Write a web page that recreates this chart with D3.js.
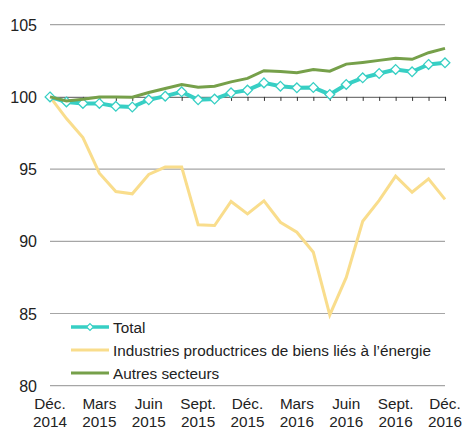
<!DOCTYPE html>
<html>
<head>
<meta charset="utf-8">
<script src="https://cdn.jsdelivr.net/npm/d3@7"></script>
<style>
  body { margin: 0; background: #fff; }
  text { font-family: "Liberation Sans", Arial, sans-serif; fill: #222; }
</style>
</head>
<body>
<script>
// Monthly index, Dec 2014 = 100
let months = d3.range(25);
let tickMonths = [0, 3, 6, 9, 12, 15, 18, 21, 24];
let tickLabels = [["Déc.", "2014"], ["Mars", "2015"], ["Juin", "2015"], ["Sept.", "2015"], ["Déc.", "2015"],
  ["Mars", "2016"], ["Juin", "2016"], ["Sept.", "2016"], ["Déc.", "2016"]];
let yTicks = [80, 85, 90, 95, 100, 105];

let total = [100, 99.65, 99.55, 99.55, 99.35, 99.3, 99.8, 100.05, 100.35, 99.8, 99.85, 100.28,
  100.47, 100.97, 100.74, 100.63, 100.65, 100.17, 100.86, 101.32, 101.62, 101.9, 101.74, 102.25, 102.36];
let energie = [100, 98.5, 97.18, 94.72, 93.45, 93.29, 94.63, 95.14, 95.14, 91.15, 91.09, 92.76,
  91.9, 92.8, 91.32, 90.63, 89.24, 84.9, 87.5, 91.39, 92.83, 94.51, 93.4, 94.33, 92.9];
let autres = [100, 99.72, 99.84, 100.0, 100.0, 99.98, 100.3, 100.58, 100.86, 100.67, 100.74, 101.04,
  101.28, 101.81, 101.76, 101.67, 101.9, 101.78, 102.27, 102.39, 102.53, 102.67, 102.6, 103.06, 103.36];

let width = 467;
let height = 432;
let margin = { top: 24.7, bottom: 46.3, left: 50, right: 22 };

let svg = d3.select("body").append("svg")
  .attr("width", width)
  .attr("height", height);

let x = d3.scaleLinear()
  .domain([0, 24])
  .range([margin.left, width - margin.right]);

let y = d3.scaleLinear()
  .domain([80, 105])
  .range([height - margin.bottom, margin.top]);

// Gridlines
svg.append("g")
  .selectAll("line")
  .data(yTicks.filter(d => d !== 100))
  .enter().append("line")
  .attr("x1", x(0))
  .attr("x2", x(24))
  .attr("y1", d => y(d))
  .attr("y2", d => y(d))
  .attr("stroke", "#a6a6a6")
  .attr("stroke-width", 1.2);

// Y labels
svg.append("g")
  .selectAll("text")
  .data(yTicks)
  .enter().append("text")
  .attr("x", 37)
  .attr("y", d => y(d) + 6)
  .attr("text-anchor", "end")
  .style("font-size", "16px")
  .text(d => d);

// Axis line at 100 with month ticks
let axis = svg.append("g")
  .attr("transform", `translate(0, ${y(100)})`)
  .call(d3.axisBottom(x).tickValues(months).tickSize(4).tickFormat(""));
axis.select(".domain").attr("stroke", "#777").attr("stroke-width", 1.2);
axis.selectAll(".tick line").attr("stroke", "#333");

// X labels
let xl = svg.append("g")
  .selectAll("text")
  .data(tickMonths)
  .enter().append("text")
  .attr("x", d => x(d))
  .attr("text-anchor", "middle")
  .style("font-size", "15.3px");
xl.append("tspan").attr("x", d => x(d)).attr("y", 409).text((d, i) => tickLabels[i][0]);
xl.append("tspan").attr("x", d => x(d)).attr("y", 427).text((d, i) => tickLabels[i][1]);

let line = d3.line()
  .x((d, i) => x(i))
  .y(d => y(d));

svg.append("path")
  .datum(energie)
  .attr("fill", "none")
  .attr("stroke", "#f9dd8c")
  .attr("stroke-width", 3)
  .attr("d", line);

svg.append("path")
  .datum(total)
  .attr("fill", "none")
  .attr("stroke", "#37cfc4")
  .attr("stroke-width", 4)
  .attr("d", line);

svg.selectAll(".mk")
  .data(total)
  .enter().append("path")
  .attr("class", "mk")
  .attr("d", d3.symbol().type(d3.symbolDiamond2).size(60))
  .attr("transform", (d, i) => `translate(${x(i)}, ${y(d)})`)
  .attr("fill", "#fff")
  .attr("stroke", "#37cfc4")
  .attr("stroke-width", 1.3);

svg.append("path")
  .datum(autres)
  .attr("fill", "none")
  .attr("stroke", "#76a04a")
  .attr("stroke-width", 3)
  .attr("d", line);

// Legend
let legendItems = [
  { name: "Total", color: "#37cfc4", w: 3.5, marker: true },
  { name: "Industries productrices de biens liés à l’énergie", color: "#f9dd8c", w: 3, marker: false },
  { name: "Autres secteurs", color: "#76a04a", w: 3, marker: false }
];

let legend = svg.selectAll(".legend")
  .data(legendItems)
  .enter().append("g")
  .attr("class", "legend")
  .attr("transform", (d, i) => `translate(71, ${327 + i * 23})`);

legend.append("line")
  .attr("x1", 0)
  .attr("x2", 38)
  .attr("stroke", d => d.color)
  .attr("stroke-width", d => d.w);

legend.filter(d => d.marker).append("path")
  .attr("d", d3.symbol().type(d3.symbolDiamond2).size(30))
  .attr("transform", "translate(19, 0)")
  .attr("fill", "#fff")
  .attr("stroke", d => d.color)
  .attr("stroke-width", 1.2);

legend.append("text")
  .attr("x", 42)
  .attr("y", 5.5)
  .style("font-size", "15.3px")
  .text(d => d.name);
</script>
</body>
</html>
